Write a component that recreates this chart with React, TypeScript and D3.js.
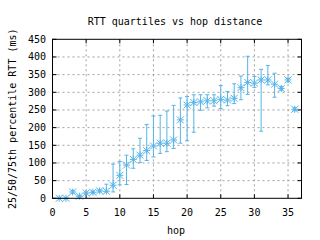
import React from "react";
import * as d3 from "d3";

const hops = [1, 2, 3, 4, 5, 6, 7, 8, 9, 10, 11, 12, 13, 14, 15, 16, 17, 18, 19, 20, 21, 22, 23, 24, 25, 26, 27, 28, 29, 30, 31, 32, 33, 34, 35, 36];
const medians = [0, 0, 18, 6, 15, 17, 21, 20, 37, 65, 94, 110, 122, 135, 148, 156, 156, 165, 222, 264, 271, 273, 276, 276, 280, 278, 283, 313, 328, 326, 335, 335, 323, 311, 335, 252];
const q1s = [0, 0, 14, 4, 12, 14, 18, 18, 18, 38, 39, 85, 101, 107, 117, 127, 132, 141, 156, 163, 187, 249, 256, 261, 254, 262, 268, 279, 294, 314, 190, 321, 286, 306, 330, 248];
const q3s = [0, 0, 22, 8, 18, 20, 24, 40, 97, 104, 122, 140, 170, 209, 233, 235, 247, 263, 284, 288, 293, 293, 293, 293, 319, 302, 324, 346, 402, 345, 365, 376, 354, 316, 340, 256];
const xTicks = [0, 5, 10, 15, 20, 25, 30, 35];
const yTicks = [0, 50, 100, 150, 200, 250, 300, 350, 400, 450];

const W = 320, H = 240;
const left = 52.5, right = 301.5, top = 39.3, bottom = 198.3;
const color = "#56b4e9";
const font = "'DejaVu Sans Mono', monospace";

export default function App() {
  const x = d3.scaleLinear().domain([0, 37]).range([left, right]);
  const y = d3.scaleLinear().domain([0, 450]).range([bottom, top]);
  const s = 3.5;
  return (
    <svg width={W} height={H} style={{ position: "absolute", left: 0, top: 0, background: "#fff" }}>
      <rect x={0} y={0} width={W} height={H} fill="#fff" />
      {/* grid */}
      {xTicks.slice(1).map((t) => (
        <line key={"gx" + t} x1={x(t)} x2={x(t)} y1={top} y2={bottom} stroke="#a0a0a0" strokeDasharray="2,3" strokeWidth={1} />
      ))}
      {yTicks.slice(1, -1).map((t) => (
        <line key={"gy" + t} x1={left} x2={right} y1={y(t)} y2={y(t)} stroke="#a0a0a0" strokeDasharray="2,3" strokeWidth={1} />
      ))}
      {/* ticks */}
      {xTicks.map((t) => (
        <g key={"tx" + t}>
          <line x1={x(t)} x2={x(t)} y1={bottom} y2={bottom - 4} stroke="#000" />
          <line x1={x(t)} x2={x(t)} y1={top} y2={top + 4} stroke="#000" />
          <text x={x(t)} y={216} fontSize={10} fontFamily={font} textAnchor="middle">{t}</text>
        </g>
      ))}
      {yTicks.map((t) => (
        <g key={"ty" + t}>
          <line x1={left} x2={left + 4} y1={y(t)} y2={y(t)} stroke="#000" />
          <line x1={right} x2={right - 4} y1={y(t)} y2={y(t)} stroke="#000" />
          <text x={46} y={y(t) + 3.5} fontSize={10} fontFamily={font} textAnchor="end">{t}</text>
        </g>
      ))}
      {/* data */}
      {hops.map((h, i) => {
        const cx = x(h);
        const cy = y(medians[i]);
        const y1 = y(q1s[i]);
        const y3 = y(q3s[i]);
        return (
          <g key={"d" + h} stroke={color} strokeWidth={1} fill="none">
            <line x1={cx} x2={cx} y1={y1} y2={y3} />
            <line x1={cx - 2} x2={cx + 2} y1={y1} y2={y1} />
            <line x1={cx - 2} x2={cx + 2} y1={y3} y2={y3} />
            <line x1={cx - s} x2={cx + s} y1={cy} y2={cy} />
            <line x1={cx} x2={cx} y1={cy - s} y2={cy + s} />
            <line x1={cx - s} x2={cx + s} y1={cy - s} y2={cy + s} />
            <line x1={cx - s} x2={cx + s} y1={cy + s} y2={cy - s} />
          </g>
        );
      })}
      {/* frame */}
      <rect x={left} y={top} width={right - left} height={bottom - top} fill="none" stroke="#000" strokeWidth={1} />
      {/* titles */}
      <text x={175} y={25} fontSize={10} fontFamily={font} textAnchor="middle">RTT quartiles vs hop distance</text>
      <text x={176} y={234} fontSize={10} fontFamily={font} textAnchor="middle">hop</text>
      <text transform={`translate(16,${(top + bottom) / 2}) rotate(-90)`} fontSize={10} fontFamily={font} textAnchor="middle">25/50/75th percentile RTT (ms)</text>
    </svg>
  );
}
